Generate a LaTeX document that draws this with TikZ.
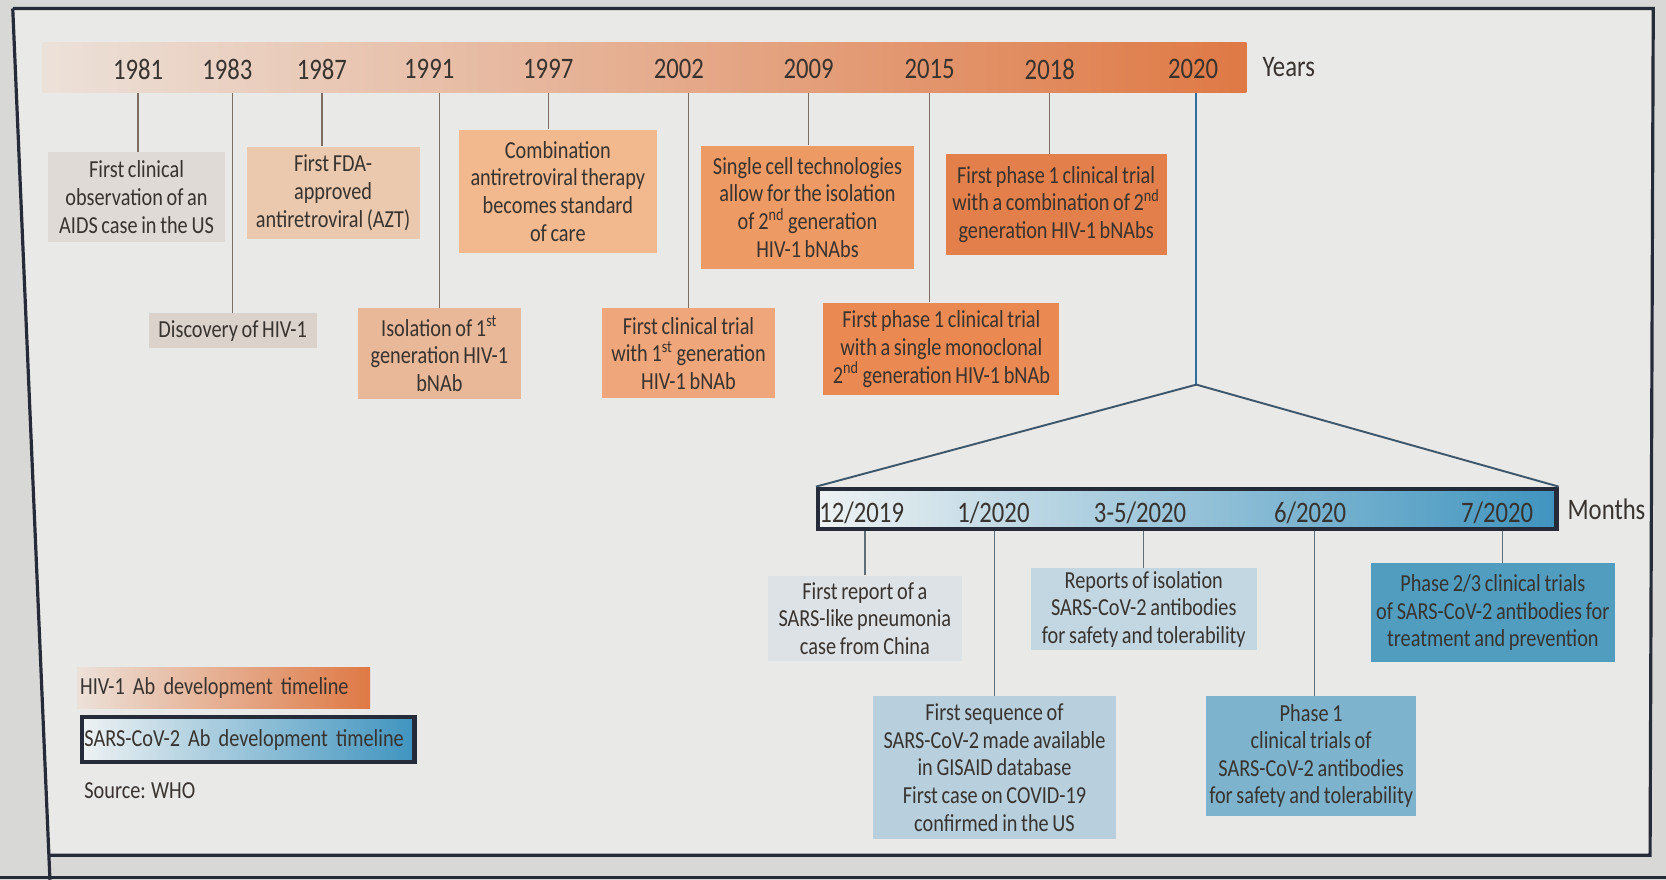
\documentclass[tikz,border=0pt]{standalone}
\usepackage{fontspec}
\setmainfont{Carlito}[FakeStretch=0.83, WordSpace=0.8]
\usetikzlibrary{positioning,calc}

\definecolor{bgout}{HTML}{D8D8D6}
\definecolor{bgin}{HTML}{E9E9E7}
\definecolor{framecol}{HTML}{262B3A}
\definecolor{txt}{HTML}{38332F}
\definecolor{hivlo}{HTML}{ECE1D9}
\definecolor{hivhi}{HTML}{DF7945}
\definecolor{covlo}{HTML}{EEF2F3}
\definecolor{covhi}{HTML}{3F94BF}
\definecolor{hivline}{HTML}{7D6D64}
\definecolor{covline}{HTML}{5E6E78}
\definecolor{splitline}{HTML}{2F6E9A}
\definecolor{fanline}{HTML}{3C566B}
\definecolor{hivA}{HTML}{E0DAD6}
\definecolor{hivB}{HTML}{DBD2CC}
\definecolor{hivC}{HTML}{EBC9AE}
\definecolor{hivD}{HTML}{E8B898}
\definecolor{hivE}{HTML}{F2B88E}
\definecolor{hivF}{HTML}{EEA67A}
\definecolor{hivG}{HTML}{EE9A64}
\definecolor{hivH}{HTML}{EA8A52}
\definecolor{hivI}{HTML}{E37F4A}
\definecolor{covA}{HTML}{DDE2E6}
\definecolor{covB}{HTML}{B8D0DE}
\definecolor{covC}{HTML}{C3D7E2}
\definecolor{covD}{HTML}{7DB3CD}
\definecolor{covE}{HTML}{509DC0}

\tikzset{
  evbox/.style={rectangle, align=center, text=txt, inner sep=0pt, font=\fontsize{11.5}{13}\selectfont},
  yearlbl/.style={text=txt, inner sep=0pt, font=\fontsize{14}{15}\selectfont},
  hivtick/.style={draw=hivline, line width=0.6pt},
  covtick/.style={draw=covline, line width=0.6pt},
}

\begin{document}
\begin{tikzpicture}[x=0.5pt, y=-0.5pt]
    \useasboundingbox (0,0) rectangle (1568,828);
    \fill[bgout] (0,0) rectangle (1568,828);
    \fill[bgin] (12,8) -- (1556,8) -- (1553,805) -- (46,805) -- cycle;
    \draw[framecol, line width=1.5pt] (12,8) -- (1556,8) -- (1553,805) -- (46,805);
    \draw[framecol, line width=1.5pt] (12,8) -- (47,828);
    \draw[framecol, line width=1.2pt] (0,826) -- (1568,826);

    \node[rectangle, inner sep=0pt, left color=hivlo, right color=hivhi,
          minimum width=566.5pt, minimum height=23.5pt] (hivbar) at (606.5,63.5) {};
    \node[yearlbl] (y1981) at (130,65) {1981};
    \node[yearlbl] (y1983) at (214,65) {1983};
    \node[yearlbl] (y1987) at (303,65) {1987};
    \node[yearlbl] (y1991) at (404,65) {1991};
    \node[yearlbl] (y1997) at (516,65) {1997};
    \node[yearlbl] (y2002) at (639,65) {2002};
    \node[yearlbl] (y2009) at (761,65) {2009};
    \node[yearlbl] (y2015) at (875,65) {2015};
    \node[yearlbl] (y2018) at (988,65) {2018};
    \node[yearlbl] (y2020) at (1123,65) {2020};
    \node[yearlbl, anchor=west] (years) at (1188,63) {Years};

    \node[evbox, fill=hivA, minimum width=83.5pt, minimum height=42.5pt] (ev1981) at (128.5,185.5)
        {First clinical\\observation of an\\AIDS case in the US};
    \node[evbox, fill=hivB, minimum width=79pt, minimum height=16.5pt] (ev1983) at (219,311.5)
        {Discovery of HIV-1};
    \node[evbox, fill=hivC, minimum width=81.5pt, minimum height=43.5pt] (ev1987) at (313.5,181.5)
        {First FDA-\\approved\\antiretroviral (AZT)};
    \node[evbox, fill=hivD, minimum width=76.5pt, minimum height=43pt] (ev1991) at (413.5,333)
        {Isolation of 1\textsuperscript{st}\\generation HIV-1\\bNAb};
    \node[evbox, fill=hivE, minimum width=93pt, minimum height=58pt] (ev1997) at (525,180)
        {Combination\\antiretroviral therapy\\becomes standard\\of care};
    \node[evbox, fill=hivF, minimum width=81pt, minimum height=42.5pt] (ev2002) at (648,332.5)
        {First clinical trial\\with 1\textsuperscript{st} generation\\HIV-1 bNAb};
    \node[evbox, fill=hivG, minimum width=100pt, minimum height=58pt] (ev2009) at (760,195)
        {Single cell technologies\\allow for the isolation\\of 2\textsuperscript{nd} generation\\HIV-1 bNAbs};
    \node[evbox, fill=hivH, minimum width=111pt, minimum height=43.5pt] (ev2015) at (886,328.5)
        {First phase 1 clinical trial\\with a single monoclonal\\2\textsuperscript{nd} generation HIV-1 bNAb};
    \node[evbox, fill=hivI, minimum width=104pt, minimum height=47.5pt] (ev2018) at (994,192.5)
        {First phase 1 clinical trial\\with a combination of 2\textsuperscript{nd}\\generation HIV-1 bNAbs};

    \draw[hivtick] (hivbar.south -| y1981) -- (ev1981.north -| y1981);
    \draw[hivtick] (hivbar.south -| ev1983) -- (ev1983.north);
    \draw[hivtick] (hivbar.south -| y1987) -- (ev1987.north -| y1987);
    \draw[hivtick] (hivbar.south -| ev1991) -- (ev1991.north);
    \draw[hivtick] (hivbar.south -| y1997) -- (ev1997.north -| y1997);
    \draw[hivtick] (hivbar.south -| ev2002) -- (ev2002.north);
    \draw[hivtick] (hivbar.south -| y2009) -- (ev2009.north -| y2009);
    \draw[hivtick] (hivbar.south -| y2015) -- (ev2015.north -| y2015);
    \draw[hivtick] (hivbar.south -| y2018) -- (ev2018.north -| y2018);

    \node[rectangle, inner sep=0pt, left color=covlo, right color=covhi, draw=framecol, line width=2pt,
          minimum width=347.5pt, minimum height=19pt] (covbar) at (1117.5,479) {};
    \node[yearlbl] (m1219) at (811,483) {12/2019};
    \node[yearlbl] (m0120) at (935,483) {1/2020};
    \node[yearlbl] (m0320) at (1073,483) {3-5/2020};
    \node[yearlbl] (m0620) at (1233,483) {6/2020};
    \node[yearlbl] (m0720) at (1409,483) {7/2020};
    \node[yearlbl, anchor=west] (months) at (1475,479) {Months};

    \coordinate (split) at (1126,362);
    \draw[draw=splitline, line width=1pt] (hivbar.south -| split) -- (split);
    \draw[draw=fanline, line width=0.9pt] (split) -- (covbar.north west);
    \draw[draw=fanline, line width=0.9pt] (split) -- (covbar.north east);

    \node[evbox, fill=covA, minimum width=91pt, minimum height=40pt] (evdec) at (814,582)
        {First report of a\\SARS-like pneumonia\\case from China};
    \node[evbox, fill=covB, minimum width=114pt, minimum height=67.5pt] (evjan) at (936,722.5)
        {First sequence of\\SARS-CoV-2 made available\\in GISAID database\\First case on COVID-19\\confirmed in the US};
    \node[evbox, fill=covC, minimum width=106.5pt, minimum height=38.5pt] (evmar) at (1076.5,573.5)
        {Reports of isolation\\SARS-CoV-2 antibodies\\for safety and tolerability};
    \node[evbox, fill=covD, minimum width=99pt, minimum height=56.5pt] (evjun) at (1234,711.5)
        {Phase 1\\clinical trials of\\SARS-CoV-2 antibodies\\for safety and tolerability};
    \node[evbox, fill=covE, minimum width=115pt, minimum height=46.5pt] (evjul) at (1405,576.5)
        {Phase 2/3 clinical trials\\of SARS-CoV-2 antibodies for\\treatment and prevention};

    \draw[covtick] (covbar.south -| evdec) -- (evdec.north);
    \draw[covtick] (covbar.south -| evjan) -- (evjan.north);
    \draw[covtick] (covbar.south -| evmar) -- (evmar.north);
    \draw[covtick] (covbar.south -| 1237,0) -- (evjun.north -| 1237,0);
    \draw[covtick] (covbar.south -| 1414,0) -- (evjul.north -| 1414,0);

    \node[evbox, anchor=west, align=left, left color=hivlo, right color=hivhi,
          text width=135pt, inner xsep=1.5pt, minimum height=19.5pt] (leghiv) at (72,647.5)
        {HIV-1 Ab development timeline};
    \node[evbox, anchor=west, align=left, left color=covlo, right color=covhi, draw=framecol, line width=2pt,
          text width=154pt, inner xsep=1.25pt, minimum height=21pt] (legcov) at (75,696)
        {SARS-CoV-2 Ab development timeline};
    \node[evbox, anchor=west] (source) at (79,744) {Source: WHO};
\end{tikzpicture}
\end{document}
